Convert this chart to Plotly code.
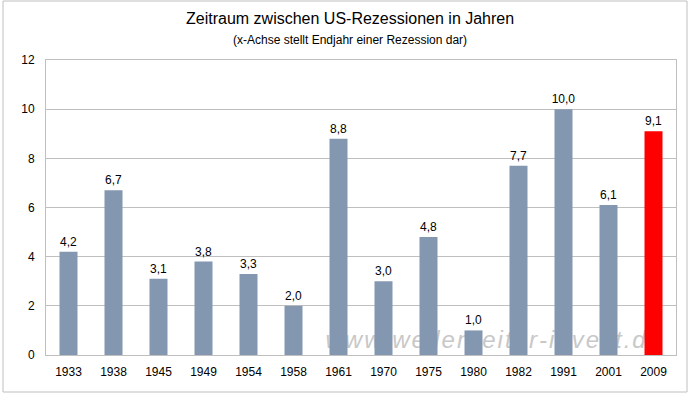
import plotly.graph_objects as go

years = ["1933", "1938", "1945", "1949", "1954", "1958", "1961", "1970",
         "1975", "1980", "1982", "1991", "2001", "2009"]
gap_years = [4.2, 6.7, 3.1, 3.8, 3.3, 2.0, 8.8, 3.0, 4.8, 1.0, 7.7, 10.0, 6.1, 9.1]
bar_colors = ["#8497B0"] * (len(years) - 1) + ["#FF0000"]

title_text = "Zeitraum zwischen US-Rezessionen in Jahren"
subtitle_text = "(x-Achse stellt Endjahr einer Rezession dar)"
watermark = "www.wellenreiter-invest.de"

FONT = "Liberation Sans, Arial, sans-serif"

fig = go.Figure()
fig.add_trace(go.Bar(
    x=years, y=gap_years,
    marker=dict(color=bar_colors, line=dict(width=0)),
    texttemplate="%{y:.1f}",
    textposition="outside",
    constraintext="none",
    textfont=dict(family=FONT, size=12, color="#000000"),
    cliponaxis=False,
    hoverinfo="x+y",
))

spaced = "\u200a".join(watermark)

W, H = 692, 395
pl, pr, pt, pb = 46, 16, 60, 40
pw, ph = W - pl - pr, H - pt - pb
def px_to_paper(x, y):
    return (x - pl) / pw, (H - pb - y) / ph

tx, ty = px_to_paper(350, 19)
sx, sy = px_to_paper(350, 40)
bx0, by0 = px_to_paper(3, 392)
bx1, by1 = px_to_paper(687, 1)

fig.update_layout(
    width=W, height=H,
    margin=dict(l=pl, r=pr, t=pt, b=pb),
    paper_bgcolor="#FFFFFF", plot_bgcolor="#FFFFFF",
    separators=",.",
    bargap=0.6,
    showlegend=False,
    font=dict(family=FONT, size=12, color="#000000"),
    xaxis=dict(
        type="category",
        showline=True, linecolor="#BFBFBF", linewidth=1, mirror=True,
        showgrid=False, ticks="", ticklabelstandoff=6,
        tickfont=dict(family=FONT, size=12, color="#000000"),
    ),
    yaxis=dict(
        range=[0, 12], dtick=2, tick0=0,
        showline=True, linecolor="#BFBFBF", linewidth=1, mirror=True,
        showgrid=True, gridcolor="#BFBFBF", gridwidth=1,
        zeroline=False, ticks="", ticklabelstandoff=8,
        tickfont=dict(family=FONT, size=12, color="#000000"),
    ),
    annotations=[
        dict(text=title_text, xref="paper", yref="paper", x=tx, y=ty,
             showarrow=False, font=dict(family=FONT, size=16, color="#000000"),
             xanchor="center", yanchor="middle"),
        dict(text=subtitle_text, xref="paper", yref="paper", x=sx, y=sy,
             showarrow=False, font=dict(family=FONT, size=12, color="#000000"),
             xanchor="center", yanchor="middle"),
    ],
    shapes=[
        # outer chart border
        dict(type="rect", xref="paper", yref="paper",
             x0=bx0, x1=bx1, y0=by0, y1=by1,
             line=dict(color="#BFBFBF", width=1), fillcolor="rgba(0,0,0,0)",
             layer="below"),
        # watermark under the bars
        dict(type="rect", xref="paper", yref="paper",
             x0=0.42, x1=1.0, y0=0.0, y1=0.12,
             line=dict(width=0), fillcolor="rgba(0,0,0,0)", layer="below",
             label=dict(text=spaced, textposition="middle center",
                        font=dict(family=FONT, size=24, color="#C8C8C8",
                                  style="italic"))),
    ],
)

fig.write_html("out.html", config={"displayModeBar": False},
               post_script="document.body.style.margin='0';")
